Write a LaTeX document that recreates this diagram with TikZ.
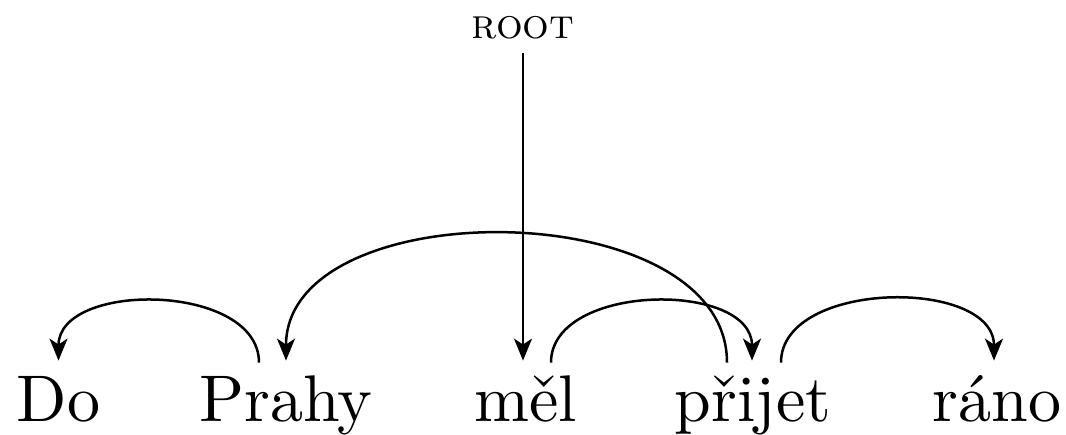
\documentclass[tikz,border=0pt]{standalone}
\usepackage{fontspec}
\setmainfont{lmroman10-regular.otf}[SmallCapsFont=lmromancaps10-regular.otf]
\usetikzlibrary{arrows.meta}
\begin{document}
\begin{tikzpicture}[x=0.5pt,y=-0.5pt,
  word/.style={font=\fontsize{33}{40}\selectfont, inner sep=0pt, text height=29pt, text depth=8pt, anchor=base},
  rootlabel/.style={font=\fontsize{21}{25}\selectfont, inner sep=0pt},
  dep/.style={line width=1.25pt, -{Stealth[length=11pt,width=9pt,inset=3pt]}}]
\useasboundingbox (0,0) rectangle (1066,434);
\node[word] (do) at (58.5,421) {Do};
\node[word] (prahy) at (286,421) {Prahy};
\node[word] (mel) at (525.5,421) {měl};
\node[word] (prijet) at (753,421) {přijet};
\node[word] (rano) at (997,421) {ráno};
\node[rootlabel] (root) at (523,28) {\textsc{root}};
% ROOT -> měl
\draw[dep] ([yshift=-6.5pt]root.south) -- ([yshift=1pt]root.south |- mel.north);
% Prahy -> Do
\draw[dep] ([xshift=-13.5pt]prahy.north) .. controls +(0,-80) and +(0,-80) .. ([yshift=1pt]do.north);
% přijet -> Prahy
\draw[dep] ([xshift=-13pt]prijet.north) .. controls +(0,-170) and +(0,-170) .. ([yshift=1pt]prahy.north);
% měl -> přijet
\draw[dep] ([xshift=12.75pt]mel.north) .. controls +(0,-80) and +(0,-80) .. ([xshift=-0.5pt,yshift=1pt]prijet.north);
% přijet -> ráno
\draw[dep] ([xshift=14pt]prijet.north) .. controls +(0,-83) and +(0,-83) .. ([xshift=-1.5pt,yshift=1pt]rano.north);
\end{tikzpicture}
\end{document}
